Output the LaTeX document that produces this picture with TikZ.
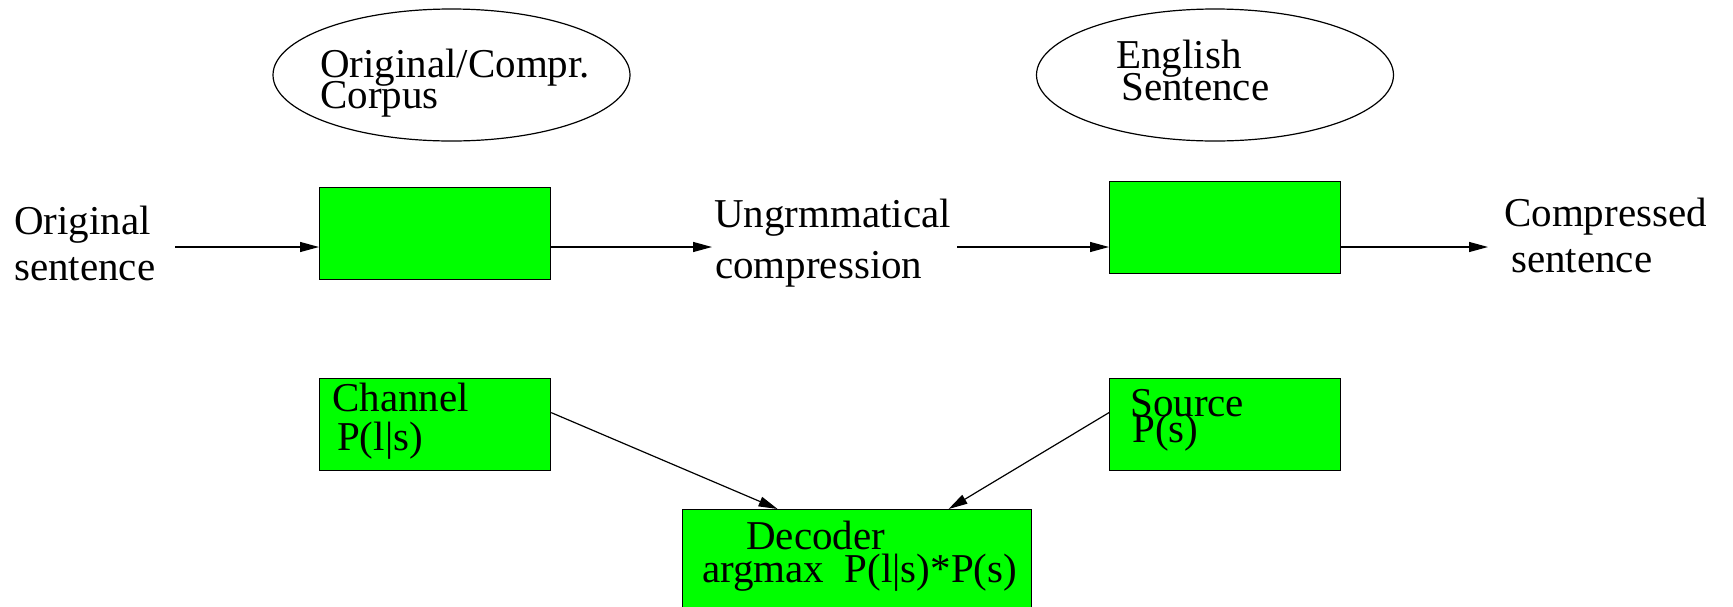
\documentclass[tikz,border=0pt]{standalone}
\usepackage{fontspec}
\setmainfont{Liberation Serif}
\usetikzlibrary{shapes.geometric,arrows.meta}
\definecolor{green0}{HTML}{00FF00}
\newcommand\twoln[4]{\vtop{\baselineskip=#3pt\lineskiplimit=-1000pt\lineskip=0pt\hbox{#1}\hbox{\kern#4pt #2}}}
\begin{document}
\begin{tikzpicture}[x=1pt,y=-1pt,
  txt/.style={anchor=base west, inner sep=0pt, font=\fontsize{41}{41}\selectfont},
  gbox/.style={draw=black, fill=green0, line width=1.2pt, anchor=north west, inner sep=0pt, minimum width=231pt, minimum height=92pt},
  oval/.style={draw=black, ellipse, line width=1.2pt, minimum width=357pt, minimum height=132pt, inner sep=0pt},
  conn/.style={line width=1.2pt, -{Triangle[length=19pt,width=10pt]}}]
\clip (0,0) rectangle (1733,606);
\fill[white] (0,0) rectangle (1733,606);
\node[oval] (corpus) at (451.5,75) {};
\node[oval] (english) at (1215,75) {};
\node[txt] (corpustext) at (320,77) {\twoln{Original/Compr.}{Corpus}{31}{0}};
\node[txt] (englishtext) at (1116,68) {\twoln{English}{Sentence}{32}{5}};
\node[txt] (orig) at (14,234) {\twoln{Original}{sentence}{46}{0}};
\node[gbox] (box1) at (319,187) {};
\node[txt] (ungram) at (714,227) {\twoln{Ungrmmatical}{compression}{51}{1}};
\node[gbox] (box2) at (1109,181) {};
\node[txt] (compr) at (1504,226) {\twoln{Compressed}{sentence}{46}{7}};
\node[gbox] (chan) at (319,378) {};
\node[txt] (chantext) at (332,411) {\twoln{Channel}{P(l|s)}{39}{5}};
\node[gbox] (src) at (1109,378) {};
\node[txt] (srctext) at (1130,416) {\twoln{Source}{P(s)}{26}{2}};
\node[gbox, minimum width=349pt, minimum height=120pt] (dec) at (682,509) {};
\node[txt] (dectext) at (702,549) {\twoln{\kern44pt Decoder}{argmax~~P(l|s)*P(s)}{33}{0}};
\coordinate (a1s) at (175,247);
\coordinate (a2e) at (712,247);
\coordinate (a3s) at (957,247);
\coordinate (a4e) at (1488,247);
\draw[conn] (a1s) -- (box1.west |- a1s);
\draw[conn] (box1.east |- a2e) -- (a2e);
\draw[conn] (a3s) -- (box2.west |- a3s);
\draw[conn] (box2.east |- a4e) -- (a4e);
\draw[conn] ([yshift=12pt]chan.east) -- ([xshift=-79.5pt]dec.north);
\draw[conn] ([yshift=12pt]src.west) -- ([xshift=91.5pt]dec.north);
\end{tikzpicture}
\end{document}
